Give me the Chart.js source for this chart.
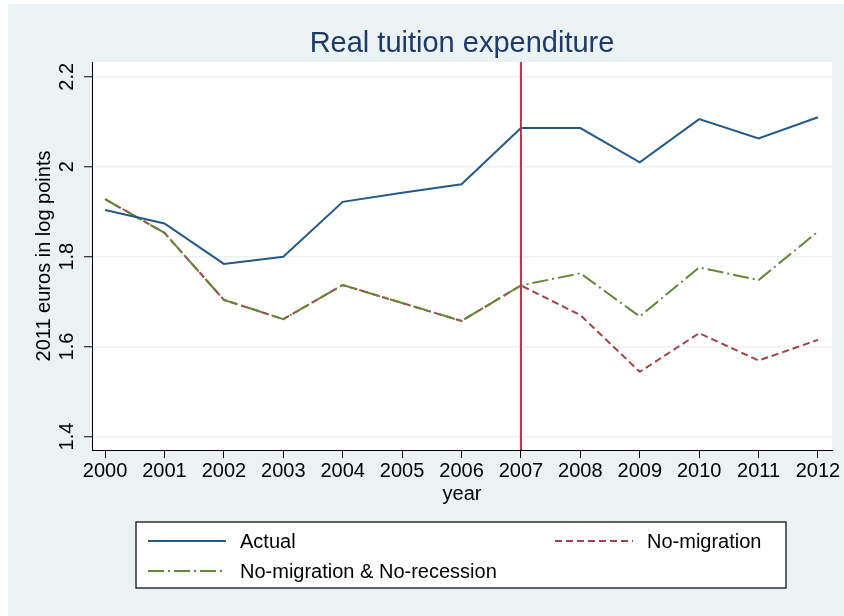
<!DOCTYPE html>
<html>
<head>
<meta charset="utf-8">
<script src="https://cdn.jsdelivr.net/npm/chart.js@4.4.0/dist/chart.umd.min.js"></script>
<style>
  html, body { margin: 0; padding: 0; background: #fff; }
  #wrap { width: 844px; height: 616px; }
</style>
</head>
<body>
<div id="wrap"><canvas id="myChart" width="844" height="616"></canvas></div>
<script>
// data
var years = [2000, 2001, 2002, 2003, 2004, 2005, 2006, 2007, 2008, 2009, 2010, 2011, 2012];
var actual = [1.904, 1.874, 1.784, 1.800, 1.922, 1.942, 1.961, 2.086, 2.086, 2.010, 2.106, 2.063, 2.110];
var noMigration = [1.928, 1.853, 1.704, 1.661, 1.737, 1.697, 1.657, 1.736, 1.670, 1.544, 1.630, 1.569, 1.615];
var noMigNoRec = [1.928, 1.853, 1.704, 1.661, 1.737, 1.697, 1.657, 1.736, 1.763, 1.667, 1.776, 1.748, 1.856];
var yTicks = [1.4, 1.6, 1.8, 2.0, 2.2];
var xlineYear = 2007;

var FONT = "'Liberation Sans', Arial, Helvetica, sans-serif";

function pts(vals) {
  return years.map(function (y, i) { return { x: y, y: vals[i] }; });
}

// background, plot region, xline, rotated y labels, title, legend
var stataLook = {
  id: 'stataLook',
  beforeDraw: function (chart) {
    var ctx = chart.ctx, a = chart.chartArea;
    ctx.save();
    ctx.fillStyle = '#eaf2f3';
    ctx.fillRect(8, 4, chart.width - 8, chart.height - 4);
    ctx.fillStyle = '#ffffff';
    ctx.fillRect(a.left, a.top, a.right - a.left, a.bottom - a.top);
    ctx.restore();
  },
  afterDatasetsDraw: function (chart) {
    var ctx = chart.ctx, a = chart.chartArea;
    var px = chart.scales.x.getPixelForValue(xlineYear);
    ctx.save();
    ctx.strokeStyle = '#cc2a45';
    ctx.lineWidth = 2;
    ctx.beginPath();
    ctx.moveTo(px, a.top);
    ctx.lineTo(px, a.bottom);
    ctx.stroke();
    ctx.restore();
  },
  afterDraw: function (chart) {
    var ctx = chart.ctx, a = chart.chartArea, ys = chart.scales.y;
    ctx.save();
    // y tick labels, rotated like Stata
    ctx.fillStyle = '#000';
    ctx.font = '20px ' + FONT;
    ctx.textAlign = 'center';
    ctx.textBaseline = 'middle';
    ys.ticks.forEach(function (t) {
      var py = ys.getPixelForValue(t.value);
      ctx.save();
      ctx.translate(67, py);
      ctx.rotate(-Math.PI / 2);
      ctx.fillText(String(+t.value.toFixed(1)), 0, 0);
      ctx.restore();
    });
    // title
    ctx.fillStyle = '#1f3a66';
    ctx.font = '29px ' + FONT;
    ctx.textBaseline = 'alphabetic';
    ctx.fillText('Real tuition expenditure', (a.left + a.right) / 2, 52);

    // legend
    ctx.fillStyle = '#fff';
    ctx.fillRect(136, 522, 650, 66);
    ctx.strokeStyle = '#111';
    ctx.lineWidth = 1.3;
    ctx.strokeRect(136, 522, 650, 66);
    var slots = [[148, 541], [555, 541], [148, 571]];
    var order = [0, 2, 1];
    ctx.font = '20px ' + FONT;
    ctx.textAlign = 'left';
    ctx.textBaseline = 'middle';
    order.forEach(function (di, k) {
      var ds = chart.data.datasets[di];
      var sx = slots[k][0], sy = slots[k][1];
      ctx.strokeStyle = ds.borderColor;
      ctx.lineWidth = ds.borderWidth;
      ctx.setLineDash(ds.borderDash || []);
      ctx.beginPath();
      ctx.moveTo(sx, sy);
      ctx.lineTo(sx + 78, sy);
      ctx.stroke();
      ctx.setLineDash([]);
      ctx.fillStyle = '#000';
      ctx.fillText(ds.label, sx + 92, sy + 1);
    });
    ctx.restore();
  }
};

var ctx = document.getElementById('myChart').getContext('2d');
var chart = new Chart(ctx, {
  type: 'line',
  data: {
    datasets: [{
      label: 'Actual',
      data: pts(actual),
      borderColor: '#235a86',
      borderWidth: 2,
      pointRadius: 0,
      fill: false,
      order: 1
    }, {
      label: 'No-migration & No-recession',
      data: pts(noMigNoRec),
      borderColor: '#66863a',
      borderWidth: 2,
      borderDash: [16, 4, 2, 4],
      pointRadius: 0,
      fill: false,
      order: 2
    }, {
      label: 'No-migration',
      data: pts(noMigration),
      borderColor: '#a3424a',
      borderWidth: 2,
      borderDash: [7, 4],
      pointRadius: 0,
      fill: false,
      order: 3
    }]
  },
  options: {
    responsive: false,
    animation: false,
    events: [],
    layout: { padding: { left: 8, top: 62, right: 12, bottom: 110 } },
    plugins: {
      legend: { display: false },
      title: { display: false },
      tooltip: { enabled: false }
    },
    scales: {
      x: {
        type: 'linear',
        min: 1999.78,
        max: 2012.236,
        afterFit: function (s) { s.height = 56; },
        ticks: {
          stepSize: 1,
          includeBounds: false,
          padding: 1,
          color: '#000',
          font: { family: FONT, size: 20 },
          maxRotation: 0,
          autoSkip: false,
          callback: function (v) { return String(v); }
        },
        grid: { drawOnChartArea: false, tickLength: 8, tickColor: '#000', tickWidth: 1 },
        border: { color: '#000', width: 1 },
        title: { display: true, text: 'year', color: '#000', font: { family: FONT, size: 20 }, padding: 0 }
      },
      y: {
        min: 1.370,
        max: 2.233,
        afterFit: function (s) { s.width = 84; },
        afterBuildTicks: function (s) { s.ticks = yTicks.map(function (v) { return { value: v }; }); },
        ticks: { display: false },
        grid: { color: '#eaf2f3', lineWidth: 1.5, tickLength: 8, tickColor: '#000', tickWidth: 1 },
        border: { color: '#000', width: 1 },
        title: { display: true, text: '2011 euros in log points', color: '#000', font: { family: FONT, size: 20 }, padding: { top: 24, bottom: 0 } }
      }
    }
  },
  plugins: [stataLook]
});
</script>
</body>
</html>
